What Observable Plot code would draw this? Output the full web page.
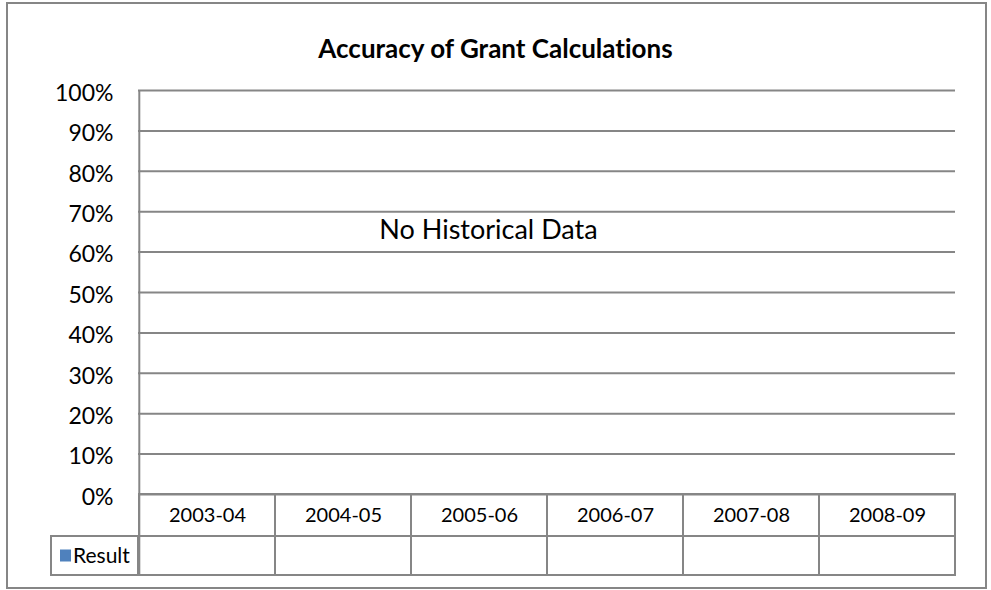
<!DOCTYPE html>
<html>
<head>
<meta charset="utf-8">
<script src="https://cdn.jsdelivr.net/npm/d3@7"></script>
<script src="https://cdn.jsdelivr.net/npm/@observablehq/plot@0.6"></script>
<style>
  html, body { margin: 0; padding: 0; background: #fff; }
  #chart svg { display: block; font-variant-ligatures: none; }
</style>
</head>
<body>
<div id="chart"></div>
<script>
// ---- data ----
const title = "Accuracy of Grant Calculations";
const categories = ["2003-04", "2004-05", "2005-06", "2006-07", "2007-08", "2008-09"];
const seriesName = "Result";
const resultValues = [null, null, null, null, null, null]; // no data available
const yTicks = [0, 0.1, 0.2, 0.3, 0.4, 0.5, 0.6, 0.7, 0.8, 0.9, 1.0];
const noDataLabel = "No Historical Data";

const rows = categories.map((c, i) => ({category: c, value: resultValues[i]}));

const FONT = "Lato, 'Open Sans', sans-serif";
const GRID = "#868686";
const SERIES_COLOR = "#4F81BD";

// table row heights expressed in y units (404px per 1.0)
const PX = 1 / 404;
const headerBottom = -42 * PX;
const rowBottom = -81 * PX;

const chart = Plot.plot({
  width: 991,
  height: 590,
  marginLeft: 138,
  marginRight: 36,
  marginTop: 90,
  marginBottom: 96,
  style: {fontFamily: FONT, background: "#fff", color: "#000"},
  x: {type: "band", domain: categories, padding: 0, axis: null, label: null},
  y: {domain: [0, 1], axis: null, label: null},
  marks: [
    Plot.gridY(yTicks, {stroke: GRID, strokeOpacity: 1, strokeWidth: 2}),
    Plot.axisY(yTicks, {tickFormat: d3.format(".0%"), tickSize: 0, tickPadding: 25, fontSize: 23, fill: "#000", dy: 3, label: null}),
    // data table header cells
    Plot.barY(categories, {x: d => d, y1: headerBottom, y2: 0, fill: "none", stroke: GRID, strokeWidth: 2, inset: 0}),
    // data table value cells (Result row)
    Plot.barY(rows, {x: "category", y1: rowBottom, y2: headerBottom, fill: "none", stroke: GRID, strokeWidth: 2, inset: 0}),
    Plot.text(categories, {x: d => d, y: headerBottom / 2, text: d => d, fontSize: 20, fill: "#000"}),
    Plot.text(rows.filter(d => d.value != null), {x: "category", y: (headerBottom + rowBottom) / 2, text: d => d3.format(".0%")(d.value), fontSize: 20}),
    // left axis line running through the table
    Plot.ruleX([categories[0]], {x: d => d, y1: rowBottom, y2: 1, stroke: GRID, strokeWidth: 2, dx: -68.2}),
    // bars (none, since values are missing)
    Plot.barY(rows.filter(d => d.value != null), {x: "category", y: "value", fill: SERIES_COLOR}),
    Plot.text([noDataLabel], {x: () => categories[2], y: () => 0.655, text: d => d, fontSize: 27, dx: 9, fill: "#000"}),
    Plot.text([title], {frameAnchor: "top", dy: -51, dx: -51.5, text: d => d, fontSize: 26, fontWeight: "bold", fill: "#000"})
  ]
});

// legend key cell of the data table, outer chart border
const svg = d3.select(chart);
const y = chart.scale("y");
const yh = y.apply(headerBottom), yb = y.apply(rowBottom);
const leftX = 138, labelLeft = 51;
svg.append("rect").attr("x", labelLeft).attr("y", yh).attr("width", leftX - labelLeft).attr("height", yb - yh)
  .attr("fill", "none").attr("stroke", GRID).attr("stroke-width", 2);
svg.append("rect").attr("x", 60).attr("y", (yh + yb) / 2 - 6).attr("width", 11).attr("height", 12).attr("fill", SERIES_COLOR);
svg.append("text").attr("x", 73).attr("y", (yh + yb) / 2).attr("dy", "0.35em").attr("text-anchor", "start")
  .attr("font-size", 21).attr("font-family", FONT).attr("fill", "#000").text(seriesName);
svg.append("rect").attr("x", 7).attr("y", 3).attr("width", 979).attr("height", 585)
  .attr("fill", "none").attr("stroke", GRID).attr("stroke-width", 2);

document.getElementById("chart").appendChild(chart);
</script>
</body>
</html>
